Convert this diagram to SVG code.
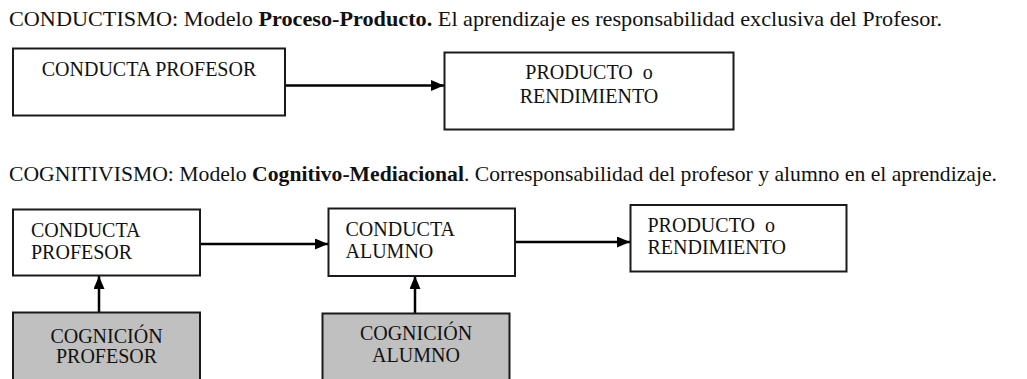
<svg xmlns="http://www.w3.org/2000/svg" width="1027" height="379" viewBox="0 0 1027 379">
<defs>
<style>
.t{font-family:"Liberation Serif","Times New Roman",serif;font-size:21px;fill:#111}
.b{font-weight:bold}
.lbl{font-family:"Liberation Serif","Times New Roman",serif;font-size:20px;fill:#111;white-space:pre}
.box{fill:#fff;stroke:#1a1a1a;stroke-width:2}
.gbox{fill:#c0c0c0;stroke:#1a1a1a;stroke-width:2}
.c{stroke:#000;stroke-width:2.5;fill:none}
</style>
<marker id="ah" viewBox="0 0 13 11" refX="13" refY="5.5" markerWidth="13" markerHeight="11" markerUnits="userSpaceOnUse" orient="auto">
<path d="M0,0 L13,5.5 L0,11 Z" fill="#000"/>
</marker>
</defs>
<rect width="1027" height="379" fill="#fff"/>
<text class="t" x="9" y="26" textLength="933" lengthAdjust="spacingAndGlyphs">CONDUCTISMO: Modelo <tspan class="b">Proceso-Producto.</tspan> El aprendizaje es responsabilidad exclusiva del Profesor.</text>
<text class="t" x="9" y="181" textLength="988" lengthAdjust="spacingAndGlyphs">COGNITIVISMO: Modelo <tspan class="b">Cognitivo-Mediacional</tspan>. Corresponsabilidad del profesor y alumno en el aprendizaje.</text>
<g id="connectors">
<line class="c" x1="285" y1="85.5" x2="444" y2="85.5" marker-end="url(#ah)"/>
<line class="c" x1="200" y1="244" x2="328" y2="244" marker-end="url(#ah)"/>
<line class="c" x1="515" y1="242" x2="630" y2="242" marker-end="url(#ah)"/>
<line class="c" x1="99" y1="312" x2="99" y2="276" marker-end="url(#ah)"/>
<line class="c" x1="415" y1="313" x2="415" y2="276" marker-end="url(#ah)"/>
</g>
<g id="n1">
<rect class="box" x="13" y="48.5" width="272" height="67"/>
<text class="lbl" x="149" y="76" text-anchor="middle">CONDUCTA PROFESOR</text>
</g>
<g id="n2">
<rect class="box" x="444.5" y="52.5" width="289" height="77"/>
<text class="lbl" x="589" y="79" text-anchor="middle" xml:space="preserve">PRODUCTO  o</text>
<text class="lbl" x="589" y="103" text-anchor="middle">RENDIMIENTO</text>
</g>
<g id="n3">
<rect class="box" x="13" y="209.5" width="187" height="66"/>
<text class="lbl" x="31" y="237">CONDUCTA</text>
<text class="lbl" x="31" y="259">PROFESOR</text>
</g>
<g id="n4">
<rect class="box" x="328.5" y="208.5" width="186.5" height="67.5"/>
<text class="lbl" x="345.5" y="236">CONDUCTA</text>
<text class="lbl" x="345.5" y="258">ALUMNO</text>
</g>
<g id="n5">
<rect class="box" x="630.5" y="205" width="216" height="66.5"/>
<text class="lbl" x="647.5" y="232" xml:space="preserve">PRODUCTO  o</text>
<text class="lbl" x="647.5" y="254">RENDIMIENTO</text>
</g>
<g id="n6">
<rect class="gbox" x="13" y="312.5" width="187" height="75"/>
<text class="lbl" x="106.5" y="343" text-anchor="middle">COGNICIÓN</text>
<text class="lbl" x="106.5" y="363" text-anchor="middle">PROFESOR</text>
</g>
<g id="n7">
<rect class="gbox" x="322.5" y="313.5" width="187" height="75"/>
<text class="lbl" x="416" y="340" text-anchor="middle">COGNICIÓN</text>
<text class="lbl" x="416" y="361.5" text-anchor="middle">ALUMNO</text>
</g>
</svg>
